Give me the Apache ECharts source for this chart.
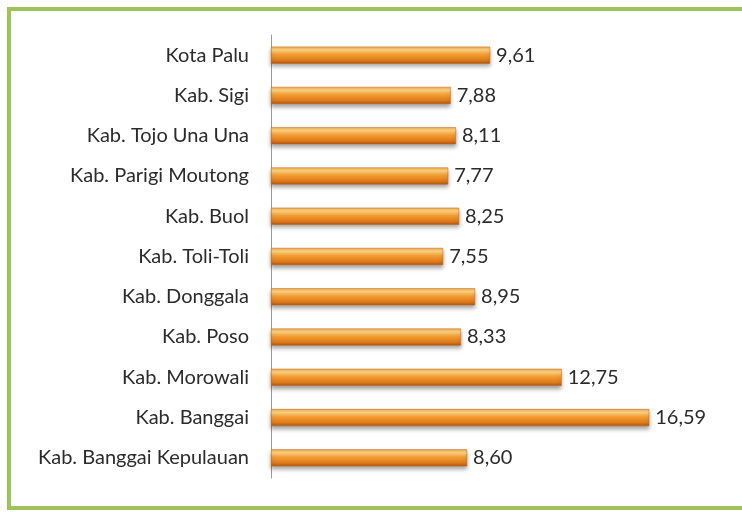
<!DOCTYPE html>
<html>
<head>
<meta charset="utf-8">
<style>
html,body{margin:0;padding:0;background:#fff;}
#chart{width:742px;height:512px;}
</style>
<script src="https://cdn.jsdelivr.net/npm/echarts@6/dist/echarts.min.js"></script>
</head>
<body>
<div id="chart"></div>
<script>
const categories = ["Kota Palu","Kab. Sigi","Kab. Tojo Una Una","Kab. Parigi Moutong","Kab. Buol","Kab. Toli-Toli","Kab. Donggala","Kab. Poso","Kab. Morowali","Kab. Banggai","Kab. Banggai Kepulauan"];
const values = [9.61, 7.88, 8.11, 7.77, 8.25, 7.55, 8.95, 8.33, 12.75, 16.59, 8.60];

const chart = echarts.init(document.getElementById('chart'));
const fontFamily = 'Lato, "Open Sans", sans-serif';
chart.setOption({
  backgroundColor: '#ffffff',
  animation: false,
  graphic: [{
    type: 'rect',
    shape: {x: 9, y: 9, width: 760, height: 499},
    style: {fill: 'none', stroke: '#9DC35A', lineWidth: 4}
  }],
  grid: {left: 271, top: 35, bottom: 34, width: 456},
  xAxis: {type: 'value', min: 0, max: 20, show: false},
  yAxis: {
    type: 'category',
    data: categories,
    inverse: true,
    axisLine: {show: true, lineStyle: {color: '#9a9a9a', width: 1}},
    axisTick: {show: false},
    axisLabel: {color: '#2b2b2b', fontSize: 20, fontFamily: fontFamily, margin: 22}
  },
  series: [{
    type: 'bar',
    data: values,
    barWidth: 17,
    itemStyle: {
      color: new echarts.graphic.LinearGradient(0, 0, 0, 1, [
        {offset: 0, color: '#F5A94A'},
        {offset: 0.2, color: '#FCD585'},
        {offset: 0.45, color: '#F59E32'},
        {offset: 0.8, color: '#DD7A1A'},
        {offset: 1, color: '#B0560F'}
      ]),
      borderColor: '#C0651A',
      borderWidth: 0.5,
      shadowColor: 'rgba(0,0,0,0.35)',
      shadowBlur: 4,
      shadowOffsetY: 3
    },
    label: {
      show: true,
      position: 'right',
      distance: 6,
      color: '#2b2b2b',
      fontSize: 20,
      fontFamily: fontFamily,
      formatter: p => p.value.toFixed(2).replace('.', ',')
    }
  }]
});
</script>
</body>
</html>
